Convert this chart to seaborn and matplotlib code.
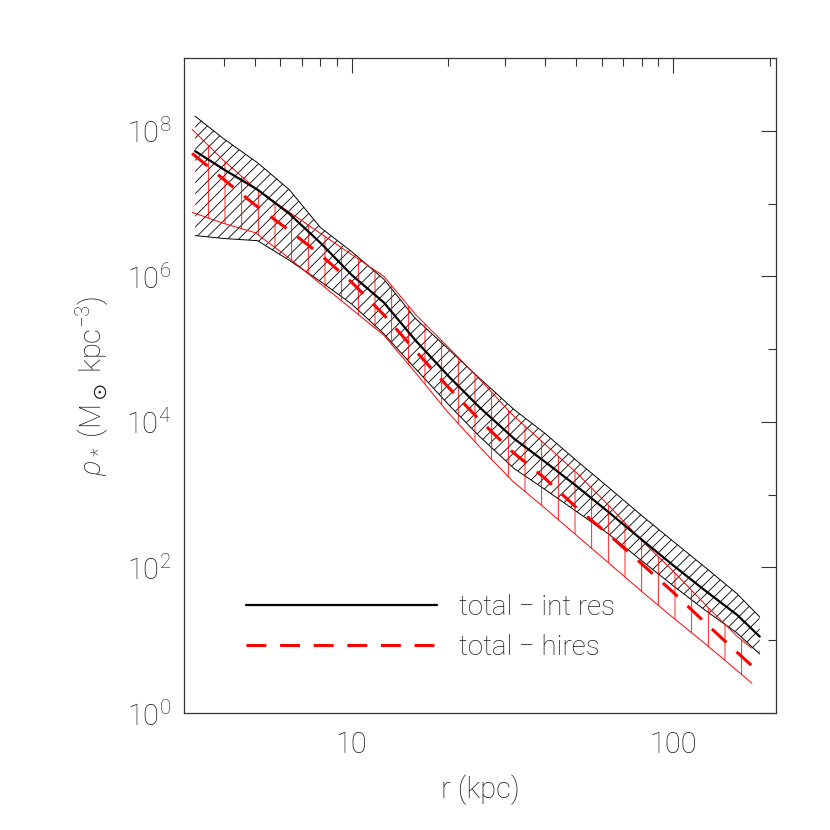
import numpy as np
import pandas as pd
import matplotlib
matplotlib.use("Agg")
import matplotlib.pyplot as plt
import seaborn as sns
from matplotlib.ticker import FixedLocator, FixedFormatter, NullFormatter

# ---- data (densities given as log10) ----
r_int = [3.26, 4.0, 5.1, 6.4, 8.0, 10.0, 12.6, 15.8, 20.0, 25.0, 32.0, 40.0,
         50.0, 63.0, 80.0, 100.0, 126.0, 158.0, 186.0]
logrho_int = [7.72, 7.47, 7.19, 6.86, 6.46, 6.02, 5.64, 5.12, 4.63, 4.20, 3.77,
              3.45, 3.12, 2.76, 2.38, 2.03, 1.68, 1.35, 1.05]
logrho_int_hi = [8.20, 7.89, 7.56, 7.19, 6.67, 6.34, 5.96, 5.42, 5.00, 4.60, 4.17,
                 3.84, 3.47, 3.10, 2.71, 2.36, 2.00, 1.64, 1.32]
logrho_int_lo = [6.56, 6.52, 6.49, 6.22, 5.93, 5.62, 5.21, 4.73, 4.24, 3.80, 3.36,
                 3.07, 2.77, 2.46, 2.09, 1.75, 1.41, 1.10, 0.81]

r_hires = [3.19, 3.98, 5.01, 6.31, 7.94, 10.0, 12.6, 15.85, 19.95, 25.1, 31.6,
           39.8, 50.1, 63.1, 79.4, 100.0, 125.9, 158.5, 175.8]
logrho_hires = [7.69, 7.34, 6.98, 6.65, 6.31, 5.92, 5.47, 4.97, 4.48, 4.02, 3.59,
                3.23, 2.82, 2.45, 2.06, 1.66, 1.24, 0.83, 0.65]
logrho_hires_hi = [8.02, 7.60, 7.21, 6.90, 6.60, 6.30, 6.00, 5.47, 5.03, 4.58, 4.10,
                   3.70, 3.30, 2.85, 2.38, 1.95, 1.49, 1.05, 0.89]
logrho_hires_lo = [6.88, 6.73, 6.60, 6.27, 5.91, 5.55, 5.19, 4.67, 4.13, 3.65, 3.19,
                   2.82, 2.44, 2.06, 1.68, 1.31, 0.95, 0.58, 0.41]

labels = ["total \u2212 int res", "total \u2212 hires"]
xtick_vals = [10, 100]
xtick_labels = ["10", "100"]
ytick_vals = [1e0, 1e2, 1e4, 1e6, 1e8]
ytick_labels = [r"$10^{0}$", r"$10^{2}$", r"$10^{4}$", r"$10^{6}$", r"$10^{8}$"]

# ---- build tables ----
df_int = pd.DataFrame({"r": r_int,
                       "rho": np.power(10.0, logrho_int),
                       "hi": np.power(10.0, logrho_int_hi),
                       "lo": np.power(10.0, logrho_int_lo)})
df_hr = pd.DataFrame({"r": r_hires,
                      "rho": np.power(10.0, logrho_hires),
                      "hi": np.power(10.0, logrho_hires_hi),
                      "lo": np.power(10.0, logrho_hires_lo)})

sns.set_style("white")
plt.rcParams["font.family"] = ["Roboto", "DejaVu Sans"]
plt.rcParams["font.weight"] = "light"
plt.rcParams["axes.labelweight"] = "light"
plt.rcParams["mathtext.fontset"] = "custom"
plt.rcParams["mathtext.rm"] = "Roboto:light"
plt.rcParams["mathtext.it"] = "Roboto:italic:light"
plt.rcParams["mathtext.bf"] = "Roboto:bold"
plt.rcParams["mathtext.sf"] = "Roboto:light"
plt.rcParams["mathtext.fallback"] = "stixsans"
plt.rcParams["hatch.linewidth"] = 0.6
txt = "#1a1a1a"

fig = plt.figure(figsize=(8.3, 8.3), dpi=100)
ax = fig.add_axes([184 / 830, 117 / 830, 592 / 830, 655 / 830])
ax.set_xscale("log")
ax.set_yscale("log")

# black hatched band (int res)
ax.fill_between(df_int["r"], df_int["lo"], df_int["hi"], facecolor="none",
                edgecolor="black", hatch="///", linewidth=0, zorder=1)
ax.plot(df_int["r"], df_int["hi"], color="black", lw=0.7, zorder=1)
ax.plot(df_int["r"], df_int["lo"], color="black", lw=0.7, zorder=1)

# red vertical-hatched band (hires)
ax.fill_between(df_hr["r"], df_hr["lo"], df_hr["hi"], facecolor="none",
                edgecolor="red", hatch="|", linewidth=0, zorder=2)
ax.plot(df_hr["r"], df_hr["hi"], color="red", lw=0.7, zorder=2)
ax.plot(df_hr["r"], df_hr["lo"], color="red", lw=0.7, zorder=2)

# central lines
sns.lineplot(data=df_int, x="r", y="rho", ax=ax, color="black", lw=1.6,
             label=labels[0], zorder=3)
sns.lineplot(data=df_hr, x="r", y="rho", ax=ax, color="red", lw=2.2,
             linestyle=(0, (6.5, 4.5)), label=labels[1], zorder=4)

ax.set_xlim(3.01, 209)
ax.set_ylim(1, 1e9)

# ticks
ax.xaxis.set_major_locator(FixedLocator(xtick_vals))
ax.xaxis.set_major_formatter(FixedFormatter(xtick_labels))
ax.xaxis.set_minor_locator(FixedLocator([4, 5, 6, 7, 8, 9, 20, 30, 40, 50, 60, 70, 80, 90, 200]))
ax.xaxis.set_minor_formatter(NullFormatter())
ax.yaxis.set_major_locator(FixedLocator(ytick_vals))
ax.yaxis.set_major_formatter(FixedFormatter(ytick_labels))
ax.yaxis.set_minor_locator(FixedLocator([1e1, 1e3, 1e5, 1e7]))
ax.yaxis.set_minor_formatter(NullFormatter())

ax.tick_params(which="both", direction="in", top=True, right=True,
               color="#333333", width=0.8, labelsize=21, labelcolor=txt)
ax.tick_params(which="major", length=11)
ax.tick_params(which="minor", length=5.5)
ax.tick_params(axis="x", which="major", pad=13)
ax.tick_params(axis="y", which="major", pad=9)

for s in ax.spines.values():
    s.set_color("#333333")
    s.set_linewidth(0.9)

ax.set_xlabel("r (kpc)", fontsize=21, color=txt, labelpad=11)
ax.set_ylabel(r"$\rho_*$ (M$_\odot$ kpc$^{-3}$)", fontsize=21, color=txt, labelpad=11)

leg = ax.legend(loc="center left", bbox_to_anchor=(0.104, 0.131), frameon=False,
                fontsize=20, handlelength=6.9, handletextpad=0.8,
                labelspacing=0.48, borderpad=0, borderaxespad=0)
for t in leg.get_texts():
    t.set_color(txt)

fig.savefig("out.png", dpi=100)
